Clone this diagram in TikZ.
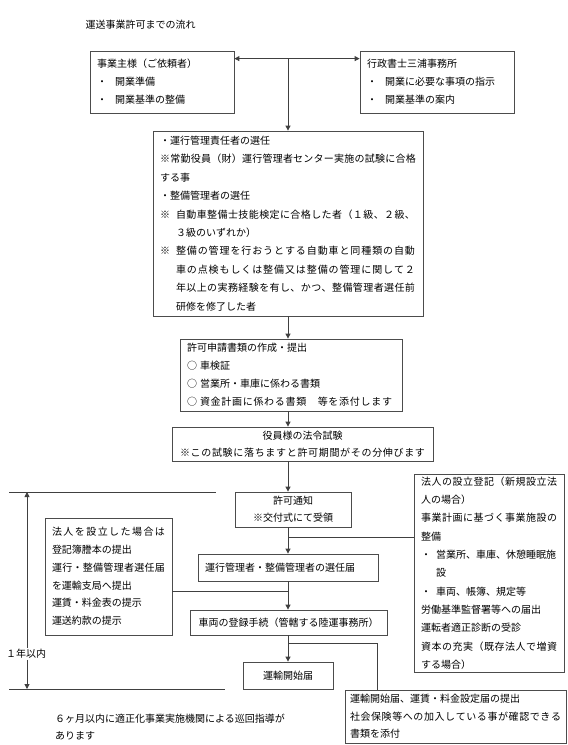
\documentclass[tikz,border=0pt]{standalone}
\usepackage{fontspec}
\setmainfont{Noto Sans CJK JP}
\usetikzlibrary{arrows.meta,calc}
\makeatletter
\def\jsp@first#1{#1\jsp@next}
\def\jsp@next#1{\ifx#1\relax\else\hfil#1\expandafter\jsp@next\fi}
\newcommand\jline[2]{\makebox[#1][s]{\jsp@first#2\relax}}
\makeatother
\begin{document}
\begin{tikzpicture}[x=1pt,y=-1pt,
  font=\fontsize{10}{18}\selectfont,
  box/.style={draw=black!70, line width=0.8pt, inner xsep=7pt, inner ysep=2pt, align=left},
  conn/.style={draw=black!75, line width=0.9pt},
  >={Triangle[length=5pt,width=5pt]}]
\fill[white] (0,0) rectangle (568,745);
\useasboundingbox (0,0) rectangle (568,745);

\node[anchor=west] (title) at (82,25) {運送事業許可までの流れ};

\node[box,text width=130pt,minimum height=62pt] (b1) at (162,82)
  {事業主様（ご依頼者）\\・\hspace{0.8em}開業準備\\・\hspace{0.8em}開業基準の整備};
\node[box,text width=140pt,minimum height=62pt] (b2) at (437,82)
  {行政書士三浦事務所\\・\hspace{0.8em}開業に必要な事項の指示\\・\hspace{0.8em}開業基準の案内};

\node[box,text width=256pt,minimum height=185pt,font=\fontsize{10}{18.4}\selectfont] (b3) at (288,223.5)
  {・運行管理責任者の選任\\
   \jline{256pt}{※常勤役員（財）運行管理者センター実施の試験に合格}\\
   する事\\
   ・整備管理者の選任\\
   \mbox{※\hspace{0.6em}\jline{239pt}{自動車整備士技能検定に合格した者（１級、２級、}}\\
   \hspace*{1.6em}３級のいずれか）\\
   \mbox{※\hspace{0.6em}\jline{239pt}{整備の管理を行おうとする自動車と同種類の自動}}\\
   \mbox{\hspace*{1.6em}\jline{239pt}{車の点検もしくは整備又は整備の管理に関して２}}\\
   \mbox{\hspace*{1.6em}\jline{239pt}{年以上の実務経験を有し、かつ、整備管理者選任前}}\\
   \hspace*{1.6em}研修を修了した者};

\node[box,text width=208pt,minimum height=72pt] (b4) at (291,375)
  {許可申請書類の作成・提出\\
   \mbox{○\hspace{0.3em}車検証}\\
   \mbox{○\hspace{0.3em}営業所・車庫に係わる書類}\\
   \mbox{○\hspace{0.3em}\jline{192pt}{資金計画に係わる書類　等を添付します}}};

\node[box,align=center,text width=247pt,minimum height=34pt,inner ysep=1pt,font=\fontsize{10}{17}\selectfont] (b5) at (302.5,444)
  {役員様の法令試験\\\jline{245pt}{※この試験に落ちますと許可期間がその分伸びます}};

\node[box,align=center,text width=102pt,minimum height=35pt,inner ysep=1pt,font=\fontsize{10}{17}\selectfont] (b6) at (293,509.5)
  {許可通知\\※交付式にて受領};

\node[box,text width=113pt,minimum height=117pt,font=\fontsize{10}{17.8}\selectfont] (b7) at (108.5,576.5)
  {\jline{113pt}{法人を設立した場合は}\\
   登記簿謄本の提出\\
   \jline{113pt}{運行・整備管理者選任届}\\
   を運輸支局へ提出\\
   運賃・料金表の提示\\
   運送約款の提示};

\node[box,text width=166pt,minimum height=27pt] (b8) at (288,567.5)
  {運行管理者・整備管理者の選任届};

\node[box,align=center,text width=183pt,minimum height=25pt] (b9) at (288.5,622.5)
  {車両の登録手続（管轄する陸運事務所）};

\node[box,align=center,text width=76pt,minimum height=27pt] (b10) at (288,675.5)
  {運輸開始届};

\node[box,text width=136pt,minimum height=198pt,font=\fontsize{10}{18.3}\selectfont] (b11) at (489,573)
  {\jline{136pt}{法人の設立登記（新規設立法}\\
   人の場合）\\
   \jline{136pt}{事業計画に基づく事業施設の}\\
   整備\\
   \mbox{・\hspace{0.5em}営業所、車庫、休憩睡眠施}\\
   \hspace*{1.5em}設\\
   \mbox{・\hspace{0.5em}車両、帳簿、規定等}\\
   労働基準監督署等への届出\\
   運転者適正診断の受診\\
   \jline{136pt}{資本の充実（既存法人で増資}\\
   する場合）};

\node[box,inner xsep=5pt,text width=211pt,minimum height=53pt,inner ysep=1pt,font=\fontsize{10}{17.5}\selectfont] (b12) at (455.5,716.5)
  {運輸開始届、運賃・料金設定届の提出\\
   \jline{211pt}{社会保険等への加入している事が確認できる}\\
   書類を添付};

\node[anchor=west,align=left,inner sep=0pt,font=\fontsize{10}{17}\selectfont] (note) at (55,727)
  {６ヶ月以内に適正化事業実施機関による巡回指導が\\あります};

% spine
\coordinate (sp) at (288,0);
\coordinate (j1) at (288,59);
\draw[conn,<->] ([yshift=-8pt]b1.north east) -- ([yshift=-8pt]b2.north west);
\draw[conn,->] (j1) -- (b3.north);
\draw[conn,->] (b3.south) -- (b4.north -| sp);
\draw[conn,->] (b4.south -| sp) -- (b5.north -| sp);
\draw[conn,->] (b5.south -| sp) -- (b6.north -| sp);
\draw[conn,->] (b6.south -| sp) -- (b8.north -| sp);
\draw[conn,->] (b8.south -| sp) -- (b9.north -| sp);
\draw[conn,->] (b9.south -| sp) -- (b10.north -| sp);

\coordinate (j7) at (288,591);
\draw[conn] (b7.east |- j7) -- (j7);
\coordinate (j11) at (288,537);
\draw[conn] (j11) -- (b11.west |- j11);
\coordinate (j12) at (288,643);
\draw[conn] (j12) -| ([xshift=33pt]b12.north west);

% one-year bracket
\coordinate (ytl) at (9,492);
\coordinate (ytr) at (216,492);
\coordinate (ybl) at (9,689);
\coordinate (ybr) at (225,689);
\draw[conn] (ytl) -- (ytr);
\draw[conn] (ybl) -- (ybr);
\node[inner sep=1pt] (yr) at (26,654) {１年以内};
\coordinate (ya) at (27,492);
\coordinate (yb) at (27,689);
\draw[conn,->] (yr.north -| ya) -- (ya);
\draw[conn,->] (yr.south -| yb) -- (yb);
\end{tikzpicture}
\end{document}
